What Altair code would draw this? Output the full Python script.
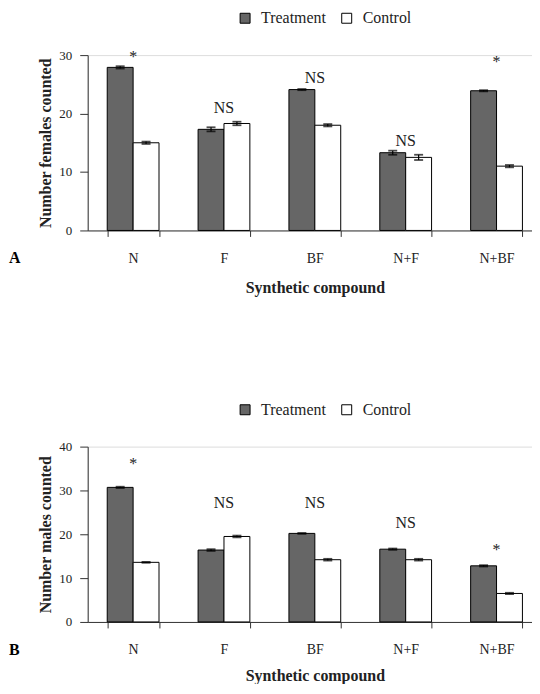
import altair as alt
import pandas as pd

compounds = ["N", "F", "BF", "N+F", "N+BF"]
groups = ["Treatment", "Control"]

# Panel A: females
fem_treat = [27.9, 17.3, 24.1, 13.3, 23.9]
fem_treat_err = [0.2, 0.35, 0.1, 0.35, 0.1]
fem_ctrl = [15.0, 18.3, 18.0, 12.5, 11.0]
fem_ctrl_err = [0.2, 0.3, 0.2, 0.45, 0.2]
fem_ann_text = ["*", "NS", "NS", "NS", "*"]
fem_ann_y = [28.9, 20.1, 25.2, 14.4, 27.9]

# Panel B: males
male_treat = [30.7, 16.4, 20.2, 16.6, 12.8]
male_treat_err = [0.15, 0.2, 0.1, 0.15, 0.15]
male_ctrl = [13.6, 19.5, 14.2, 14.2, 6.5]
male_ctrl_err = [0.1, 0.2, 0.2, 0.2, 0.15]
male_ann_text = ["*", "NS", "NS", "NS", "*"]
male_ann_y = [35.0, 25.9, 25.9, 21.4, 15.3]

FONT = "Liberation Serif, Times New Roman, serif"
TXT = "#222222"
AX = "#333333"


def make_df(treat, terr, ctrl, cerr):
    rows = []
    for i, c in enumerate(compounds):
        rows.append({"compound": c, "group": "Treatment", "value": treat[i],
                     "lo": treat[i] - terr[i], "hi": treat[i] + terr[i]})
        rows.append({"compound": c, "group": "Control", "value": ctrl[i],
                     "lo": ctrl[i] - cerr[i], "hi": ctrl[i] + cerr[i]})
    return pd.DataFrame(rows)


def panel(df, ann_df, ytitle, ymax, letter, xtitle_pad):
    xaxis = alt.Axis(title="Synthetic compound", labelAngle=0, tickBand="extent",
                     tickSize=6, tickColor=AX, domainColor=AX, labelPadding=15,
                     labelFont=FONT, labelFontSize=14, labelColor=TXT,
                     titleFont=FONT, titleFontSize=16, titleFontWeight="bold",
                     titleColor=TXT, titlePadding=xtitle_pad)
    xs = alt.Scale(paddingInner=0.43, paddingOuter=0.215)
    xo = alt.XOffset("group:N", sort=groups, scale=alt.Scale(paddingInner=0, paddingOuter=0))
    ys = alt.Scale(domain=[0, ymax], nice=False)
    yaxis = alt.Axis(title=ytitle, values=list(range(0, ymax + 1, 10)), grid=False,
                     tickSize=8, tickColor=AX, domainColor=AX, labelPadding=8,
                     labelFont=FONT, labelFontSize=13, labelColor=TXT,
                     titleFont=FONT, titleFontSize=16, titleFontWeight="bold",
                     titleColor=TXT, titlePadding=5)

    def X():
        return alt.X("compound:N", sort=compounds, scale=xs, axis=xaxis)

    def Y(field):
        return alt.Y(field, type="quantitative", scale=ys, axis=yaxis)

    base = alt.Chart(df)
    bars = base.mark_bar(stroke="black", strokeWidth=1).encode(
        x=X(), xOffset=xo, y=Y("value"),
        color=alt.Color("group:N", sort=groups,
                        scale=alt.Scale(domain=groups, range=["#666666", "#ffffff"]),
                        legend=alt.Legend(title=None, orient="none", legendX=150, legendY=-45,
                                          direction="horizontal", symbolType="square",
                                          symbolSize=100, symbolStrokeColor="black",
                                          symbolStrokeWidth=1, labelFont=FONT,
                                          labelFontSize=16, labelColor=TXT, labelOffset=8,
                                          columnPadding=12, padding=0)),
    )
    rules = base.mark_rule(color="black", strokeWidth=1.2).encode(
        x=X(), xOffset=xo, y=Y("lo"), y2="hi:Q")
    cap_lo = base.mark_tick(color="black", size=9, thickness=1.8).encode(
        x=X(), xOffset=xo, y=Y("lo"))
    cap_hi = base.mark_tick(color="black", size=9, thickness=1.8).encode(
        x=X(), xOffset=xo, y=Y("hi"))
    ann = alt.Chart(ann_df).mark_text(font=FONT, fontSize=16, color=TXT,
                                      baseline="alphabetic", align="center").encode(
        x=X(), y=Y("ypos"), text="label:N")
    lab = alt.Chart(pd.DataFrame({"t": [letter]})).mark_text(
        font=FONT, fontSize=16, fontWeight="bold", color="black",
        align="left", baseline="middle").encode(
        x=alt.value(-79), y=alt.value(204), text="t:N")
    return alt.layer(bars, rules, cap_lo, cap_hi, ann, lab).properties(width=456, height=176)


dfA = make_df(fem_treat, fem_treat_err, fem_ctrl, fem_ctrl_err)
dfB = make_df(male_treat, male_treat_err, male_ctrl, male_ctrl_err)
annA = pd.DataFrame({"compound": compounds, "label": fem_ann_text, "ypos": fem_ann_y})
annB = pd.DataFrame({"compound": compounds, "label": male_ann_text, "ypos": male_ann_y})

pA = panel(dfA, annA, "Number females counted", 30, "A", 14)
pB = panel(dfB, annB, "Number males counted", 40, "B", 11)

chart = alt.vconcat(pA, pB, spacing=105).resolve_scale(
    color="independent", y="independent", x="independent"
).resolve_legend(color="independent").properties(
    padding={"left": 0, "top": 0, "right": -11, "bottom": -2}
).configure_view(stroke=None).configure(
    background="white", font=FONT
).configure_text(font=FONT).configure_legend(labelFont=FONT)

chart.save("out.html", embed_options={"renderer": "svg", "actions": False})
